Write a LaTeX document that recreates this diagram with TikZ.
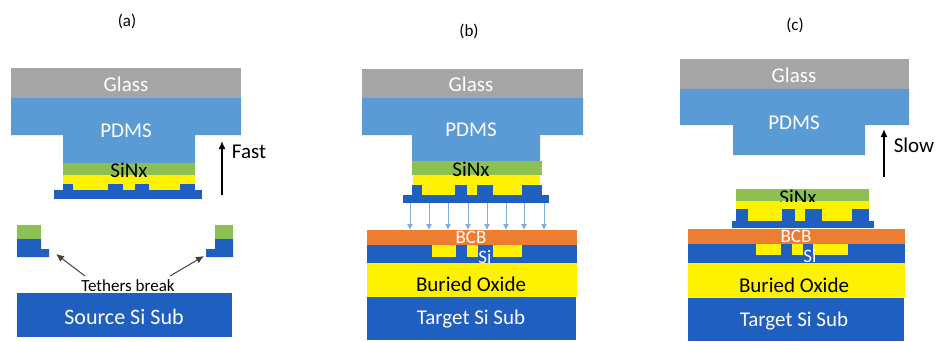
\documentclass[tikz,border=0pt]{standalone}
\usepackage{fontspec}
\usetikzlibrary{arrows.meta}
\setmainfont{Carlito}
\definecolor{glassgray}{HTML}{A5A5A5}
\definecolor{pdmsblue}{HTML}{5B9BD5}
\definecolor{sinxgreen}{HTML}{8CC152}
\definecolor{siblue}{HTML}{1F5FBF}
\definecolor{bcborange}{HTML}{ED7D31}
\tikzset{
  glass/.style={fill=glassgray},
  pdms/.style={fill=pdmsblue},
  sinx/.style={fill=sinxgreen},
  oxide/.style={fill=yellow},
  si/.style={fill=siblue},
  bcb/.style={fill=bcborange},
  lbl/.style={inner sep=0pt,font=\fontsize{21}{21}\selectfont},
  lblw/.style={lbl,text=white},
  thin lbl/.style={inner sep=0pt,text=white,font=\fontsize{19}{19}\selectfont},
  small/.style={inner sep=0pt,font=\fontsize{17}{17}\selectfont},
  lift/.style={line width=1.5pt,-{Latex[length=8pt,width=7pt]}},
  tear/.style={line width=1pt,black!75,-{Latex[length=8pt,width=7pt]}},
  drop/.style={pdmsblue!80!white,line width=0.8pt,-{Latex[length=6pt,width=6pt]}},
}
\begin{document}
\begin{tikzpicture}[x=1pt,y=-1pt]
      \useasboundingbox (0,0) rectangle (935,341);

      % (a)
      \path [glass] (11,68) rectangle (241,98);
      \path [pdms] (11,98) -- (241,98) -- (241,135) -- (195,135) -- (195,163) -- (63,163) -- (63,135) -- (11,135) -- cycle;
      \path [sinx] (63,163) rectangle (195,175);
      \path [oxide] (63,175) rectangle (195,190);
      \path [si] (54,190) rectangle (202,199);
      \foreach \xa/\xb in {63/73,108/123,135/149,180/195}
        \path [si] (\xa,184) rectangle (\xb,190);
      \path [sinx] (17,225) rectangle (41,239);
      \path [si] (17,239) -- (41,239) -- (41,249) -- (49,249) -- (49,257) -- (17,257) -- cycle;
      \path [sinx] (215,225) rectangle (233,239);
      \path [si] (215,239) -- (233,239) -- (233,257) -- (206,257) -- (206,249) -- (215,249) -- cycle;
      \path [si] (17,293) rectangle (232,337);
      \node [small] (capa) at (127,21) {(a)};
      \node [lblw] (glassa) at (126,84) {Glass};
      \node [lblw] (pdmsa) at (126,131) {PDMS};
      \node [lbl] (sinxa) at (129,170) {SiNx};
      \node [lblw,scale=1.05] (suba) at (124,317) {Source Si Sub};
      \node [small] (tether) at (128,286) {Tethers break};
      \coordinate (tethl) at (56,254);
      \coordinate (tethr) at (204,256);
      \draw [tear] (85,276) -- (tethl);
      \draw [tear] (170,276) -- (tethr);
      \coordinate (fastb) at (222,195);
      \coordinate (fastt) at (222,141);
      \draw [lift] (fastb) -- (fastt);
      \node [lbl] (fast) at (249,152) {Fast};

      % (b)
      \path [glass] (362,69) rectangle (583,98);
      \path [pdms] (362,98) -- (583,98) -- (583,135) -- (540,135) -- (540,161) -- (412,161) -- (412,135) -- (362,135) -- cycle;
      \path [sinx] (412,161) rectangle (542,175);
      \path [oxide] (413,175) rectangle (540,195);
      \path [si] (403,195) rectangle (549,203);
      \foreach \xa/\xb in {412/422,455/467,477/493,522/542}
        \path [si] (\xa,185) rectangle (\xb,195);
      \foreach \xa in {410,429,448,468,487,506,524,544}
        \draw [drop] (\xa,203) -- (\xa,230);
      \path [bcb] (367,230) rectangle (577,245);
      \path [si] (367,245) rectangle (577,263);
      \foreach \xa/\xb in {432/456,467/478,493/522}
        \path [oxide] (\xa,245) rectangle (\xb,257);
      \path [oxide] (367,263) rectangle (577,297);
      \path [si] (367,297) rectangle (576,340);
      \node [small] (capb) at (469,31) {(b)};
      \node [lblw] (glassb) at (471,84) {Glass};
      \node [lblw] (pdmsb) at (471,130) {PDMS};
      \node [lbl] (sinxb) at (471,169) {SiNx};
      \node [thin lbl] (bcbb) at (471,237) {BCB};
      \node [thin lbl] (sib) at (485,257) {Si};
      \node [lbl] (oxb) at (471,284) {Buried Oxide};
      \node [lblw] (subb) at (471,319) {Target Si Sub};

      % (c)
      \path [glass] (680,59) rectangle (909,89);
      \path [pdms] (680,89) -- (909,89) -- (909,125) -- (865,125) -- (865,155) -- (733,155) -- (733,125) -- (680,125) -- cycle;
      \path [sinx] (736,189) rectangle (869,201);
      \path [oxide] (736,201) rectangle (869,221);
      \path [si] (732,221) rectangle (874,228);
      \foreach \xa/\xb in {736/748,782/795,805/822,852/869}
        \path [si] (\xa,209) rectangle (\xb,221);
      \path [bcb] (688,229) rectangle (905,244);
      \path [si] (688,244) rectangle (905,263);
      \foreach \xa/\xb in {756/781,792/803,813/848}
        \path [oxide] (\xa,244) rectangle (\xb,255);
      \path [oxide] (688,263) rectangle (905,298);
      \path [si] (688,298) rectangle (904,341);
      \node [small] (capc) at (795,25) {(c)};
      \node [lblw] (glassc) at (794,75) {Glass};
      \node [lblw] (pdmsc) at (794,123) {PDMS};
      \begin{scope}
        \clip (736,189) rectangle (869,201);
        \node [lbl] (sinxc) at (798,197) {SiNx};
      \end{scope}
      \node [thin lbl] (bcbc) at (796,236) {BCB};
      \node [thin lbl] (sic) at (810,256) {Si};
      \node [lbl] (oxc) at (794,285) {Buried Oxide};
      \node [lblw] (subc) at (794,321) {Target Si Sub};
      \coordinate (slowb) at (884,177);
      \coordinate (slowt) at (884,129);
      \draw [lift] (slowb) -- (slowt);
      \node [lbl] (slow) at (914,145) {Slow};
    \end{tikzpicture}
\end{document}
